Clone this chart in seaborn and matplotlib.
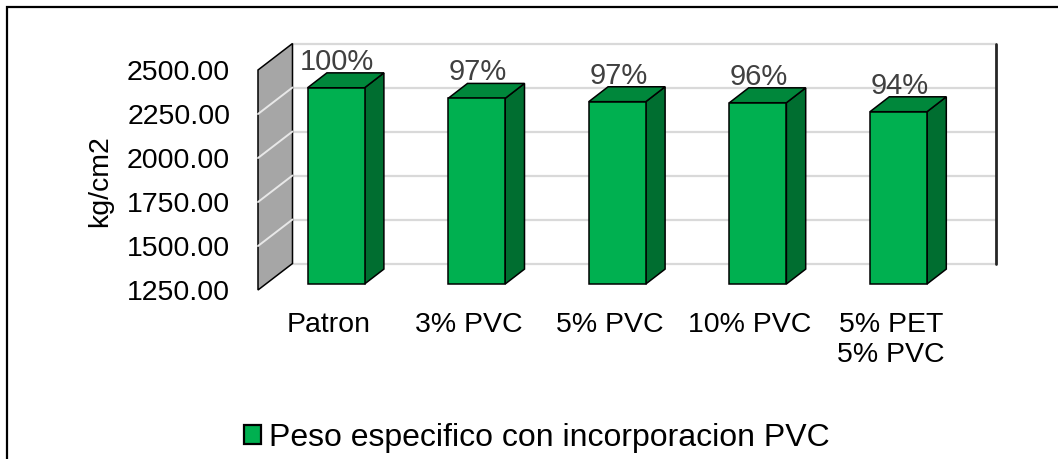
import matplotlib
matplotlib.use("Agg")
import matplotlib.pyplot as plt
import seaborn as sns
from matplotlib.patches import Polygon, Rectangle
from matplotlib.transforms import ScaledTranslation

# ---- data ----
categories = ["Patron", "3% PVC", "5% PVC", "10% PVC", "5% PET\n5% PVC"]
values = [2365, 2305, 2286, 2280, 2229]
pct_labels = ["100%", "97%", "97%", "96%", "94%"]
yticks = [1250, 1500, 1750, 2000, 2250, 2500]
legend_label = "Peso especifico con incorporacion PVC"
ylabel = "kg/cm2"

# ---- style ----
W, H, dpi = 1058, 459, 100
sns.set_style("white")
plt.rcParams['font.family'] = ['Liberation Sans', 'DejaVu Sans']
plt.rcParams['text.color'] = 'black'
plt.rcParams['xtick.color'] = 'black'
plt.rcParams['ytick.color'] = 'black'

C_FRONT = "#00b050"
C_TOP = "#00873b"
C_SIDE = "#006e30"
C_WALL = "#a6a6a6"
C_GRID = "#d9d9d9"

fig = plt.figure(figsize=(W / dpi, H / dpi), dpi=dpi)
ax_l, ax_b, ax_w, ax_h = 258, 290, 703, 220   # px (front plane)
ax = fig.add_axes([ax_l / W, 1 - ax_b / H, ax_w / W, ax_h / H])
ax.set_facecolor("none")

sns.barplot(x=categories, y=values, ax=ax, color=C_FRONT, width=57 / 140.6,
            errorbar=None, edgecolor="black", linewidth=1.1, saturation=1)

ymin, ymax = yticks[0], yticks[-1]
ax.set_ylim(ymin, ymax)
ax.set_xlim(-0.5, len(categories) - 0.5)

ux = ax_w / len(categories)       # px per category unit
uy = ax_h / (ymax - ymin)         # px per value unit

def off(dx, dy):
    return ax.transData + ScaledTranslation(dx / dpi, dy / dpi, fig.dpi_scale_trans)

wall_dx, wall_dy = 34.5, 26.5
bar_dx, bar_dy = 7.8, 6.0
depth_dx, depth_dy = 19.3 / ux, 14.9 / uy

# back wall gridlines
for t in yticks:
    ax.plot([-0.5, len(categories) - 0.5], [t, t], color=C_GRID, lw=1.6,
            transform=off(wall_dx, wall_dy), clip_on=False, zorder=0)
# back wall right edge
ax.plot([len(categories) - 0.5] * 2, [ymin, ymax], color="#262626", lw=2,
        transform=off(wall_dx, wall_dy), clip_on=False, zorder=0)

# side wall
wx = -0.5
wdx = wall_dx / ux
wdy = wall_dy / uy
side_wall = Polygon([(wx, ymin), (wx, ymax), (wx + wdx, ymax + wdy), (wx + wdx, ymin + wdy)],
                    closed=True, facecolor=C_WALL, edgecolor="black", lw=1.1,
                    transform=ax.transData, clip_on=False, zorder=1)
ax.add_patch(side_wall)
for t in yticks[1:-1]:
    ax.plot([wx, wx + wdx], [t, t + wdy], color="#e8e8e8", lw=1.4,
            clip_on=False, zorder=1.5)

# bars (3D faces)
tr = off(bar_dx, bar_dy)
for p, lab in zip(list(ax.patches)[:len(values)], pct_labels):
    x0, w, top = p.get_x(), p.get_width(), p.get_height()
    p.set_y(ymin)
    p.set_height(top - ymin)
    p.set_transform(tr)
    p.set_clip_on(False)
    p.set_zorder(4)
    side = Polygon([(x0 + w, ymin), (x0 + w + depth_dx, ymin + depth_dy),
                    (x0 + w + depth_dx, top + depth_dy), (x0 + w, top)],
                   closed=True, facecolor=C_SIDE, edgecolor="black", lw=1.1,
                   transform=tr, clip_on=False, zorder=3)
    topf = Polygon([(x0, top), (x0 + w, top), (x0 + w + depth_dx, top + depth_dy),
                    (x0 + depth_dx, top + depth_dy)],
                   closed=True, facecolor=C_TOP, edgecolor="black", lw=1.1,
                   transform=tr, clip_on=False, zorder=3)
    ax.add_patch(side)
    ax.add_patch(topf)
    ax.text(x0 + w / 2, top + depth_dy, lab, ha="center", va="baseline",
            fontsize=21, color="#404040",
            transform=off(bar_dx + 1, bar_dy + 3), zorder=5)

# axes cosmetics
for s in ax.spines.values():
    s.set_visible(False)
ax.grid(False)
ax.set_yticks(yticks)
ax.set_yticklabels([f"{v:.2f}" for v in yticks])
ax.tick_params(axis="y", length=0, pad=20, labelsize=20.5, labelcolor="black")
ax.tick_params(axis="x", length=0, pad=16, labelsize=20.5, labelcolor="black")
for t in ax.get_xticklabels():
    t.set_linespacing(1.2)
ax.set_xlabel("")
ax.set_ylabel("")
fig.text(100 / W, 1 - 181 / H, ylabel, rotation=90, ha="center", va="center",
         fontsize=20.5, color="black")

# legend
handle = Rectangle((0, 0), 1, 1, facecolor=C_FRONT, edgecolor="black", lw=1.6)
leg = fig.legend([handle], [legend_label], loc="center", bbox_to_anchor=(537 / W, 1 - 438 / H),
                 frameon=False, fontsize=23, handlelength=0.55, handleheight=0.55,
                 handletextpad=0.25, borderpad=0)
for t in leg.get_texts():
    t.set_color("black")

# outer border (top and left visible)
fig.add_artist(Rectangle((7 / W, -0.2), 1.3, 1.2 - 7 / H, transform=fig.transFigure,
                         fill=False, edgecolor="black", lw=1.6))

fig.savefig("out.png", dpi=dpi)
